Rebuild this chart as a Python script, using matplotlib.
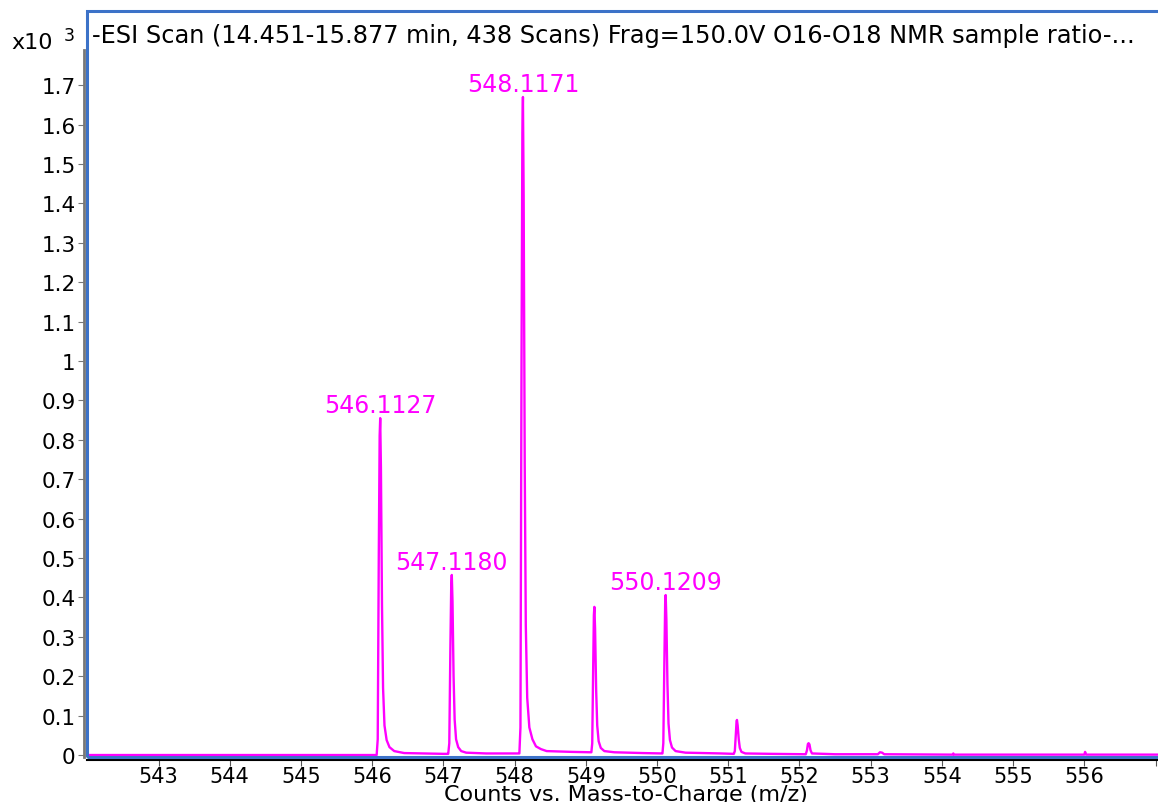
import matplotlib
matplotlib.use("Agg")
import matplotlib.pyplot as plt
from matplotlib.patches import Rectangle
from matplotlib.ticker import FuncFormatter

# ---------- data (counts x 10^3 vs m/z) ----------
mz = [542.000, 546.063,
      546.078, 546.093, 546.105, 546.113, 546.123, 546.138, 546.153, 546.173,
      546.203, 546.243, 546.310, 546.450, 547.000, 547.065,
      547.068, 547.083, 547.098, 547.110, 547.118, 547.128, 547.143, 547.158,
      547.178, 547.208, 547.250, 547.320, 547.600, 548.060,
      548.067, 548.082, 548.097, 548.109, 548.117, 548.127, 548.142, 548.157,
      548.177, 548.207, 548.250, 548.300, 548.370, 548.450, 548.800, 549.070,
      549.078, 549.090, 549.103, 549.113, 549.120, 549.130, 549.145, 549.160,
      549.180, 549.210, 549.260, 549.400, 549.800, 550.070,
      550.076, 550.088, 550.103, 550.114, 550.121, 550.131, 550.146, 550.161,
      550.181, 550.210, 550.260, 550.400, 550.900, 551.070,
      551.078, 551.092, 551.107, 551.116, 551.122, 551.132, 551.147, 551.162,
      551.185, 551.240, 551.600, 552.080,
      552.088, 552.105, 552.118, 552.128, 552.140, 552.155, 552.175, 552.500,
      553.100, 553.130, 553.160, 553.190, 554.150, 554.160, 554.170,
      556.000, 556.010, 556.025, 557.100]
counts = [0.000, 0.000,
          0.040, 0.510, 0.810, 0.855, 0.730, 0.380, 0.170, 0.075,
          0.038, 0.020, 0.010, 0.005, 0.003, 0.003,
          0.003, 0.030, 0.270, 0.430, 0.457, 0.390, 0.200, 0.090,
          0.040, 0.020, 0.010, 0.006, 0.004, 0.004,
          0.004, 0.070, 1.000, 1.580, 1.670, 1.420, 0.740, 0.330,
          0.145, 0.070, 0.040, 0.022, 0.015, 0.010, 0.008, 0.007,
          0.007, 0.030, 0.220, 0.355, 0.376, 0.320, 0.165, 0.075,
          0.035, 0.018, 0.010, 0.007, 0.005, 0.004,
          0.004, 0.030, 0.240, 0.385, 0.406, 0.345, 0.180, 0.080,
          0.038, 0.019, 0.010, 0.006, 0.004, 0.003,
          0.003, 0.010, 0.055, 0.085, 0.089, 0.075, 0.040, 0.018,
          0.008, 0.004, 0.003, 0.002,
          0.002, 0.012, 0.028, 0.030, 0.027, 0.012, 0.004, 0.002,
          0.002, 0.007, 0.006, 0.002, 0.001, 0.004, 0.001,
          0.001, 0.008, 0.001, 0.001]

peak_labels = ["546.1127", "547.1180", "548.1171", "550.1209"]
peak_mz = [546.1127, 547.1180, 548.1171, 550.1209]
peak_h = [0.855, 0.457, 1.670, 0.406]

x_ticks = list(range(543, 558))
y_ticks = [i / 10 for i in range(18)]

title = "-ESI Scan (14.451-15.877 min, 438 Scans) Frag=150.0V O16-O18 NMR sample ratio-..."

MAGENTA = "#ff00ff"
BLUE = "#3c72c8"

plt.rcParams["font.family"] = ["DejaVu Sans"]

fig = plt.figure(figsize=(11.58, 8.03), dpi=100)
ax = fig.add_axes([87 / 1158, 1 - 758 / 803, 1075 / 1158, 746.3 / 803])

ax.plot(mz, counts, color=MAGENTA, lw=1.7)

for lab, x, h in zip(peak_labels, peak_mz, peak_h):
    ax.annotate(lab, (x, h), xytext=(0, 0.5), textcoords="offset points",
                ha="center", va="bottom", color=MAGENTA, fontsize=17)

ax.set_xlim(541.996, 557.09)
ax.set_ylim(-0.005, 1.889)
ax.set_xticks(x_ticks)
ax.set_xticklabels([str(t) if t < 557 else "" for t in x_ticks])
ax.set_yticks(y_ticks)
ax.yaxis.set_major_formatter(FuncFormatter(lambda v, p: f"{v:g}"))

# offset axis lines + blue frame like the instrument software
for s in ["top", "right"]:
    ax.spines[s].set_visible(False)
ax.spines["left"].set_position(("outward", 2.2))
ax.spines["left"].set_color("#777777")
ax.spines["left"].set_linewidth(2)
ax.spines["left"].set_bounds(-0.005, 1.79)
ax.spines["bottom"].set_position(("outward", 2.2))
ax.spines["bottom"].set_color("black")
ax.spines["bottom"].set_linewidth(1.5)
ax.add_patch(Rectangle((0, 0), 1, 1, transform=ax.transAxes, fill=False,
                       edgecolor=BLUE, lw=2.2, clip_on=False, zorder=5))

ax.tick_params(axis="y", length=4, color="#777777", labelsize=15.5, pad=2)
ax.tick_params(axis="x", length=4, color="#555555", labelsize=15, pad=0)

fig.text(626 / 1158, -0.002, "Counts vs. Mass-to-Charge (m/z)", fontsize=16,
         ha="center", va="bottom")

ax.text(0.005, 0.984, title, transform=ax.transAxes, ha="left", va="top", fontsize=17.3)

fig.text(11 / 1158, 1 - 43 / 803, "x10", fontsize=16, va="center", ha="left")
fig.text(64 / 1158, 1 - 36 / 803, "3", fontsize=12.5, va="center", ha="left")

fig.savefig("out.png", dpi=100)
